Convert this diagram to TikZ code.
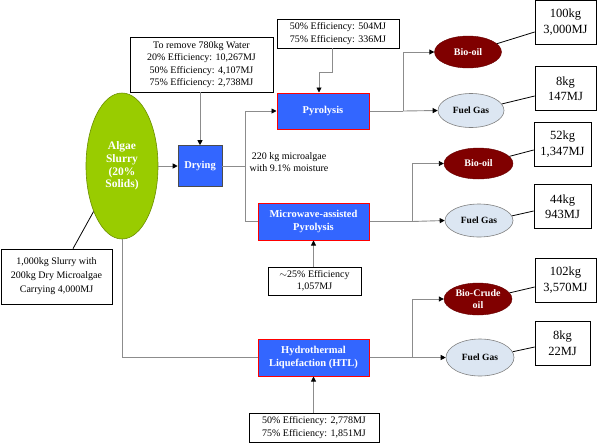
\documentclass[tikz,border=0pt]{standalone}
\usepackage{fontspec}
\setmainfont{Liberation Serif}
\usetikzlibrary{shapes.geometric,arrows.meta,calc}
\definecolor{procblue}{HTML}{3366FF}
\definecolor{algaegreen}{HTML}{99CC00}
\definecolor{oilred}{HTML}{800000}
\definecolor{gasfill}{HTML}{DCE6F2}
\definecolor{flowgray}{HTML}{8C8C8C}
\tikzset{
  proc/.style={draw=red, line width=1pt, fill=procblue, text=white, align=center, inner sep=0pt,
    font=\fontsize{10.5}{12.4}\selectfont\bfseries},
  drybox/.style={draw=gray!60!black, line width=0.6pt, fill=procblue, text=white, align=center, inner sep=0pt,
    font=\fontsize{10.5}{12.4}\selectfont\bfseries},
  ann/.style={draw=black, line width=0.7pt, fill=white, align=center, inner sep=0pt,
    font=\fontsize{10}{12.4}\selectfont},
  bigbox/.style={draw=black, line width=0.7pt, fill=white, align=center, inner sep=0pt,
    minimum width=59pt, minimum height=44pt, font=\fontsize{12.5}{15.5}\selectfont},
  oil/.style={ellipse, draw=oilred!80!black, fill=oilred, text=white, align=center, inner sep=0pt,
    minimum width=68pt, minimum height=32pt, font=\fontsize{10}{12}\selectfont\bfseries},
  gas/.style={ellipse, draw=gray, line width=0.6pt, fill=gasfill, align=center, inner sep=0pt,
    minimum width=67pt, minimum height=35pt, font=\fontsize{9.5}{11.5}\selectfont\bfseries},
  flow/.style={draw=flowgray, line width=0.9pt},
  arr/.style={flow, -{Triangle[length=5pt,width=5pt,color=black]}},
  lead/.style={draw=black, line width=0.8pt},
}
\begin{document}
\begin{tikzpicture}[x=1pt,y=-1pt]
\useasboundingbox (0,0) rectangle (600,445);

% left part
\node[ellipse, draw=algaegreen!70!black, line width=0.6pt, fill=algaegreen, text=white, align=center,
  inner sep=0pt, minimum width=72pt, minimum height=146pt,
  font=\fontsize{11.5}{12.6}\selectfont\bfseries] (algae) at (122,166) {Algae\\Slurry\\(20\%\\Solids)};
\node[drybox, minimum width=44pt, minimum height=41pt] (dry) at (200,166) {Drying};
\node[ann, minimum width=143pt, minimum height=55pt] (dryeff) at (201.5,64.5)
  {To remove 780kg Water\\20\% Efficiency: 10,267MJ\\50\% Efficiency: 4,107MJ\\75\% Efficiency: 2,738MJ};
\node[ann, minimum width=111pt, minimum height=55pt, font=\fontsize{10}{14}\selectfont] (slurry) at (56.5,276.5)
  {1,000kg Slurry with\\200kg Dry Microalgae\\Carrying 4,000MJ};

% processes
\node[proc, minimum width=92pt, minimum height=36pt] (pyro) at (323,111) {Pyrolysis};
\node[proc, minimum width=111pt, minimum height=37pt] (micro) at (313.5,221.5) {Microwave-assisted\\Pyrolysis};
\node[proc, minimum width=111pt, minimum height=37pt] (htl) at (313.5,357.5) {Hydrothermal\\Liquefaction (HTL)};

\node[ann, minimum width=122pt, minimum height=29pt] (pyreff) at (338,33.5)
  {50\% Efficiency: 504MJ\\75\% Efficiency: 336MJ};
\node[ann, minimum width=93pt, minimum height=28pt] (mweff) at (314.5,281)
  {$\sim$25\% Efficiency\\1,057MJ};
\node[ann, minimum width=130pt, minimum height=29pt] (htleff) at (314,427.5)
  {50\% Efficiency: 2,778MJ\\75\% Efficiency: 1,851MJ};

\node[align=center, inner sep=0pt, font=\fontsize{10}{12.4}\selectfont] (moist) at (289,162)
  {220 kg microalgae\\with 9.1\% moisture};

% products
\node[oil, minimum width=67pt, minimum height=32pt] (bio1) at (468,52) {Bio-oil};
\node[gas, minimum width=66pt, minimum height=34pt] (fg1) at (471,110.5) {Fuel Gas};
\node[oil, minimum width=69pt, minimum height=31pt] (bio2) at (478.5,163.5) {Bio-oil};
\node[gas, minimum width=68pt, minimum height=33pt] (fg2) at (479,220.5) {Fuel Gas};
\node[oil, minimum width=68pt, minimum height=32pt] (bio3) at (478,299) {Bio-Crude\\oil};
\node[gas, minimum width=68pt, minimum height=37pt] (fg3) at (480,357.5) {Fuel Gas};

\node[bigbox, minimum width=61pt] (b1) at (565.5,22) {100kg\\3,000MJ};
\node[bigbox, minimum width=61pt] (b2) at (565.5,88.5) {8kg\\147MJ};
\node[bigbox, minimum width=57pt] (b3) at (562.5,144) {52kg\\1,347MJ};
\node[bigbox, minimum width=57pt] (b4) at (562.5,206.5) {44kg\\943MJ};
\node[bigbox, minimum width=61pt] (b5) at (565.5,280) {102kg\\3,570MJ};
\node[bigbox, minimum width=55pt] (b6) at (562.5,343) {8kg\\22MJ};

% split points
\coordinate (s1) at (245,166);
\coordinate (s2) at (403,111);
\coordinate (s3) at (412,221.5);
\coordinate (s4) at (412,357.5);

% flows
\draw[arr] (algae.east) -- (dry.west);
\draw[flow] (algae.south) |- (htl.west);
\draw[arr] (dry.north |- dryeff.south) -- (dry.north);
\draw[flow] (dry.east) -- (s1);
\draw[arr] (s1) |- (pyro.west);
\draw[flow] (s1) |- (micro.west);
\draw[arr] ($(pyreff.south)+(-6,0)$) -- ++(0,24.5) -| ($(pyro.north)+(-4,0)$);
\draw[arr] (micro.south |- mweff.north) -- (micro.south);
\draw[arr] (htl.south |- htleff.north) -- (htl.south);

\draw[flow] (pyro.east) -- (s2);
\draw[arr] (s2) |- (bio1.west);
\draw[arr] (s2) -- (fg1.west);
\draw[flow] (micro.east) -- (s3);
\draw[arr] (s3) |- (bio2.west);
\draw[arr] (s3) -- (fg2.west);
\draw[flow] (htl.east) -- (s4);
\draw[arr] (s4) |- (bio3.west);
\draw[arr] (s4) -- (fg3.west);

% leaders
\draw[lead] ($(slurry.north)+(16.5,0)$) -- (algae.238);
\draw[lead] (bio1.16) -- ($(b1.west)+(0,10)$);
\draw[lead] (fg1.12) -- ($(b2.west)+(0,7.5)$);
\draw[lead] (bio2.13) -- ($(b3.west)+(0,6)$);
\draw[lead] (fg2.8) -- ($(b4.west)+(0,4.5)$);
\draw[lead] (bio3.11) -- ($(b5.west)+(0,7)$);
\draw[lead] (fg3.10) -- ($(b6.west)+(0,4)$);
\end{tikzpicture}
\end{document}
